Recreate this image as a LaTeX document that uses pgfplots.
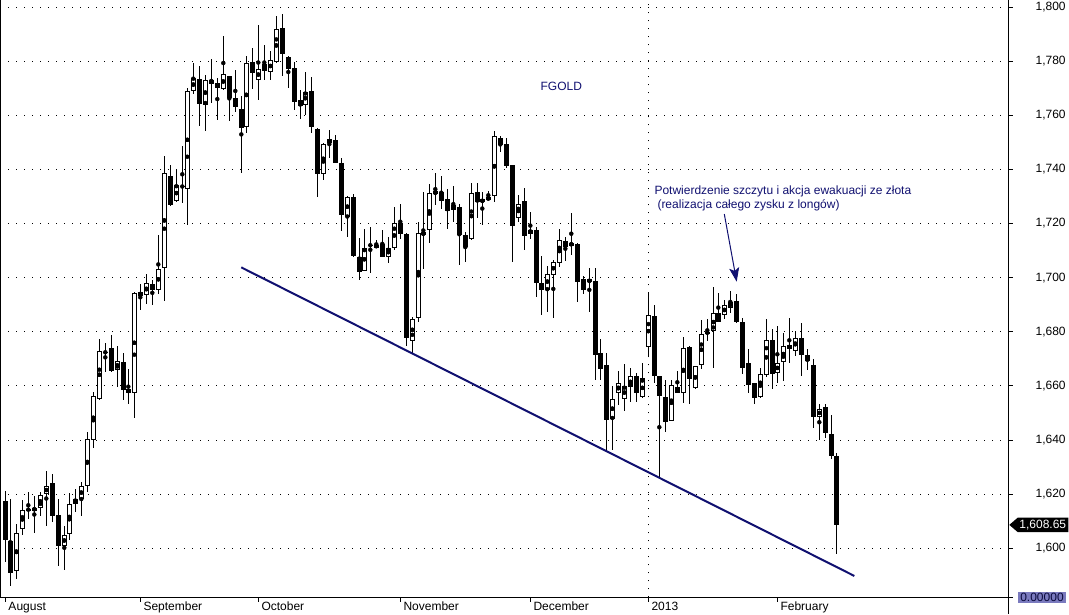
\documentclass[border=0pt]{standalone}
\usepackage{pgfplots}
\pgfplotsset{compat=1.18}
\usepackage{pgfplotstable}
\usepackage{fontspec}
\setmainfont{Liberation Sans}
\usetikzlibrary{arrows.meta}
\definecolor{navyc}{RGB}{16,16,112}
\definecolor{zerobox}{RGB}{122,122,190}

\pgfplotstableread{
x o h l c
5.3 1617.6 1621.3 1595.1 1602.9
10.3 1602.7 1618.3 1586.2 1591.0
16.3 1591.7 1609.0 1588.7 1605.6
22.3 1607.3 1617.9 1605.1 1614.1
28.3 1614.5 1620.8 1611.0 1614.1
34.3 1614.0 1619.2 1605.8 1614.9
40.3 1614.9 1620.7 1612.1 1619.8
46.3 1620.0 1628.7 1608.1 1623.1
52.3 1624.1 1627.6 1609.8 1612.1
58.3 1612.4 1618.2 1593.6 1601.0
64.3 1601.0 1608.3 1592.1 1604.8
69.3 1605.2 1620.4 1602.9 1616.3
75.3 1616.3 1621.9 1613.4 1618.2
81.3 1618.2 1624.6 1611.8 1623.0
87.3 1623.0 1643.0 1620.9 1640.4
93.3 1640.1 1657.6 1637.0 1656.4
99.3 1655.2 1677.3 1654.7 1673.1
105.3 1672.7 1675.8 1665.3 1672.2
111.3 1674.2 1678.8 1665.2 1665.5
117.3 1666.0 1674.6 1659.7 1669.2
123.3 1669.0 1672.1 1654.8 1658.5
128.3 1658.7 1666.2 1653.3 1657.5
134.3 1657.5 1694.9 1648.2 1694.4
140.3 1693.2 1697.5 1688.0 1694.8
146.3 1693.7 1701.2 1690.2 1698.1
152.3 1697.7 1699.0 1689.8 1695.5
158.3 1695.5 1715.9 1693.9 1703.3
164.3 1703.6 1744.9 1691.3 1738.7
170.3 1737.7 1741.8 1726.5 1726.8
176.3 1728.2 1739.8 1727.8 1734.3
182.3 1733.8 1748.8 1727.6 1733.6
187.3 1732.8 1770.0 1719.4 1769.1
193.3 1768.9 1779.3 1767.8 1773.8
199.3 1773.4 1778.3 1755.9 1764.1
205.3 1763.8 1775.0 1754.1 1773.0
211.3 1773.0 1780.8 1764.6 1771.6
217.3 1771.9 1773.8 1758.2 1770.1
223.3 1769.7 1789.4 1769.2 1775.3
229.3 1774.5 1774.7 1757.8 1766.3
235.3 1766.5 1776.9 1761.1 1763.0
241.3 1762.3 1767.3 1738.6 1755.3
246.3 1755.7 1781.8 1753.4 1779.3
252.3 1779.7 1784.9 1769.7 1775.5
258.3 1773.0 1793.5 1765.5 1777.1
264.3 1778.9 1786.1 1772.9 1776.2
270.3 1776.0 1783.6 1772.9 1780.4
276.3 1779.7 1796.8 1779.3 1791.9
282.3 1792.2 1797.5 1774.6 1782.5
288.3 1781.5 1782.0 1770.0 1777.0
294.3 1777.5 1779.6 1761.9 1765.0
300.3 1765.7 1769.3 1758.7 1763.4
305.3 1763.9 1776.1 1760.0 1768.7
311.3 1769.0 1774.2 1753.5 1755.6
317.3 1755.0 1755.2 1729.9 1738.4
323.3 1738.4 1749.7 1736.1 1749.5
329.3 1749.8 1754.4 1744.3 1751.1
335.3 1750.7 1752.8 1742.2 1742.5
341.3 1742.5 1744.1 1717.2 1723.3
347.3 1722.5 1730.2 1715.0 1730.0
353.3 1729.7 1730.8 1707.8 1708.0
359.3 1707.8 1714.8 1699.3 1702.2
364.3 1702.5 1718.1 1702.3 1711.1
370.3 1712.2 1718.8 1701.8 1711.8
376.3 1711.1 1713.8 1710.8 1712.2
382.3 1712.3 1717.5 1707.5 1707.8
388.3 1707.8 1715.1 1705.5 1711.1
394.3 1711.1 1726.1 1710.1 1720.1
400.3 1720.1 1727.2 1714.2 1716.2
406.3 1716.2 1716.4 1674.8 1677.8
412.3 1676.6 1685.5 1672.3 1684.9
418.3 1685.2 1720.6 1683.6 1716.6
423.3 1715.9 1731.8 1703.1 1716.6
429.3 1717.7 1734.6 1712.7 1731.2
435.3 1731.2 1738.6 1726.8 1731.6
441.3 1731.5 1737.5 1725.3 1728.4
447.3 1729.0 1732.7 1717.9 1724.6
453.3 1725.1 1733.8 1720.6 1727.0
459.3 1726.3 1727.4 1704.7 1715.8
465.3 1715.6 1716.8 1705.8 1711.4
471.3 1714.3 1734.9 1714.0 1731.2
477.3 1731.6 1734.9 1722.1 1727.8
482.3 1727.8 1731.7 1719.4 1729.0
488.3 1728.9 1732.1 1728.8 1729.6
494.3 1730.2 1754.2 1728.0 1752.2
500.3 1751.6 1752.2 1746.3 1749.1
506.3 1749.4 1751.5 1740.4 1741.4
512.3 1741.6 1741.8 1705.8 1719.1
518.3 1721.9 1730.5 1720.4 1727.4
524.3 1728.3 1733.0 1710.2 1715.4
530.3 1716.3 1724.1 1714.4 1717.8
536.3 1717.5 1718.9 1693.0 1698.1
541.3 1697.9 1708.0 1686.2 1695.6
547.3 1695.6 1704.2 1687.3 1701.5
553.3 1701.1 1706.5 1685.2 1705.9
559.3 1705.6 1718.1 1704.0 1714.1
565.3 1713.7 1715.2 1706.2 1711.4
571.3 1711.9 1724.0 1708.5 1712.8
577.3 1712.6 1712.8 1690.9 1698.4
583.3 1699.6 1700.5 1694.1 1695.3
589.3 1698.4 1703.5 1687.5 1699.3
595.3 1698.9 1703.5 1662.1 1671.4
600.3 1672.1 1677.3 1662.2 1666.4
606.3 1667.8 1672.1 1636.3 1647.4
612.3 1647.9 1659.8 1636.5 1655.3
618.3 1657.3 1665.7 1653.0 1661.0
624.3 1655.3 1668.1 1650.6 1659.8
630.3 1659.5 1666.8 1654.2 1663.5
636.3 1663.5 1664.6 1654.1 1657.5
642.3 1655.8 1668.4 1655.6 1662.8
648.3 1674.3 1694.8 1670.9 1686.2
654.3 1685.8 1689.9 1661.2 1663.5
659.3 1663.5 1663.7 1625.8 1656.3
665.3 1655.8 1662.2 1642.8 1646.8
671.3 1647.2 1662.2 1647.0 1660.4
677.3 1659.5 1665.4 1657.3 1657.5
683.3 1657.3 1678.1 1653.8 1674.0
689.3 1674.4 1674.6 1653.2 1662.6
695.3 1659.1 1667.5 1658.9 1667.2
701.3 1667.7 1684.4 1666.2 1679.1
707.3 1679.8 1684.6 1676.5 1679.5
713.3 1680.4 1696.7 1666.5 1686.8
718.3 1687.0 1694.4 1683.5 1683.7
724.3 1686.3 1691.6 1684.6 1689.8
730.3 1688.9 1695.1 1687.0 1691.1
736.3 1691.4 1693.8 1683.3 1683.7
742.3 1683.7 1685.2 1664.4 1666.5
748.3 1668.5 1673.5 1657.4 1660.2
754.3 1660.9 1661.0 1653.2 1655.6
760.3 1655.9 1666.7 1655.7 1664.4
766.3 1664.1 1684.6 1663.3 1677.0
772.3 1677.0 1680.9 1658.9 1664.4
777.3 1664.8 1682.3 1661.1 1668.5
783.3 1668.9 1679.6 1662.0 1674.7
789.3 1675.2 1685.2 1668.5 1673.7
795.3 1673.0 1680.2 1671.2 1677.8
801.3 1677.8 1683.3 1663.6 1671.5
807.3 1671.5 1673.5 1665.8 1669.1
813.3 1667.8 1669.8 1644.4 1648.6
819.3 1648.6 1653.3 1639.9 1651.5
825.3 1652.2 1653.3 1640.7 1642.6
831.3 1642.2 1649.1 1633.1 1634.0
836.3 1634.0 1635.4 1597.9 1608.65
}\candles

\begin{document}
\begin{tikzpicture}[font=\fontsize{12}{14}\selectfont]
\begin{axis}[
  at={(0pt,0pt)}, anchor=south west,
  scale only axis, width=1008.3pt, height=597.3pt,
  xmin=0, xmax=1008.3, ymin=1581.9, ymax=1802.6,
  axis x line*=bottom, axis y line*=right,
  axis line style={line width=1pt, black, -},
  clip=false,
  tick align=outside, major tick length=4.5pt,
  every tick/.style={black, line width=1pt},
  tick label style={font=\fontsize{12}{14}\selectfont, text=black},
  ytick={1600,1620,1640,1660,1680,1700,1720,1740,1760,1780,1800},
  yticklabels={{1,600},{1,620},{1,640},{1,660},{1,680},{1,700},{1,720},{1,740},{1,760},{1,780},{1,800}},
  yticklabel style={anchor=east, inner sep=0pt, xshift=53pt},
  xtick={5.3,140.3,258.3,400.3,530.3,648.3,777.3},
  xticklabels={August,September,October,November,December,2013,February},
  xticklabel style={anchor=north west, inner sep=0pt, xshift=3pt},
  ymajorgrids,
  grid style={black, line width=1pt, dash pattern=on 1pt off 7pt},
  extra x ticks={648.3}, extra x tick labels={},
  extra x tick style={grid=major, major tick length=0pt},
]
% wicks
\addplot[only marks, mark=none, forget plot,
  error bars/.cd, y dir=both, y explicit, error mark=none,
  error bar style={draw=black, line width=1pt}]
  table[x=x, y expr={(\thisrow{h}+\thisrow{l})/2}, y error expr={(\thisrow{h}-\thisrow{l})/2}] {\candles};
% bodies (outline / filled)
\addplot[only marks, mark=none, forget plot,
  error bars/.cd, y dir=both, y explicit, error mark=none,
  error bar style={draw=black, line width=5pt}]
  table[x=x, y expr={(\thisrow{o}+\thisrow{c})/2},
    y error expr={\thisrow{c}>\thisrow{o} ? max((\thisrow{c}-\thisrow{o})/2,0.55) : max((\thisrow{o}-\thisrow{c})/2,0.2)}] {\candles};
% hollow interiors of rising candles
\addplot[only marks, mark=none, forget plot, unbounded coords=discard,
  error bars/.cd, y dir=both, y explicit, error mark=none,
  error bar style={draw=white, line width=3pt}]
  table[x=x, y expr={\thisrow{c}>\thisrow{o} ? (\thisrow{o}+\thisrow{c})/2 : nan},
    y error expr={max((\thisrow{c}-\thisrow{o})/2-0.37,0.18)}] {\candles};
% trend line
\addplot[navyc, line width=2pt, forget plot] coordinates {(241.3,1703.8) (854.3,1589.8)};

% frame pieces
\draw[line width=1pt] (axis cs:0.5,1581.9) -- (axis cs:0.5,1802.6);
\draw[line width=1pt] (axis cs:1008.3,1581.9) -- ++(0pt,-16.7pt);
\draw[line width=1pt] (axis cs:1008.3,1581.9) -- ++(5pt,0pt);
\node[fill=zerobox, text={rgb,255:red,10;green,10;blue,60}, inner xsep=2.4pt, inner ysep=1pt, anchor=west, minimum height=11pt]
  at ([xshift=9.4pt]axis cs:1008.3,1581.9) {0.00000};
% last price marker
\fill[black] (axis cs:1009.3,1608.65) -- ++(8.4pt,7.2pt) -- ++(50.6pt,0pt) -- ++(0pt,-14.4pt) -- ++(-50.6pt,0pt) -- cycle;
\node[text=white, anchor=east, inner sep=0pt] at ([xshift=57pt]axis cs:1009.3,1608.65) {1,608.65};
% annotations
\node[text=navyc, inner sep=0pt] at (axis cs:561.3,1770.8) {FGOLD};
\node[text=navyc, anchor=base west, inner sep=0pt] at (axis cs:654.3,1730.9) {Potwierdzenie szczytu i akcja ewakuacji ze złota};
\node[text=navyc, anchor=base west, inner sep=0pt] at (axis cs:657.3,1725.7) {(realizacja całego zysku z longów)};
\draw[navyc, line width=1pt, -{Stealth[length=14pt,width=10pt,inset=3pt]}] (axis cs:724.3,1723.5) -- (axis cs:736.7,1698.5);
\end{axis}
\pgfresetboundingbox
\useasboundingbox (0pt,-16.7pt) rectangle (1069pt,597.3pt);
\end{tikzpicture}
\end{document}
